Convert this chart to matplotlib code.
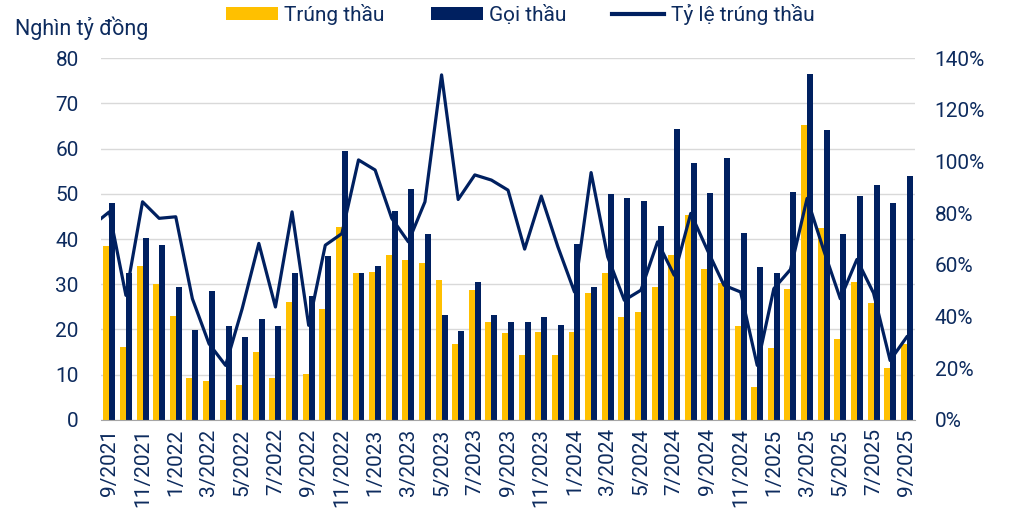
import matplotlib
matplotlib.use("Agg")
import matplotlib.pyplot as plt
import numpy as np

plt.rcParams['font.family'] = ['Roboto', 'DejaVu Sans']

# Tháng: 9/2021 .. 9/2025
months = []
m, y = 9, 2021
while (y, m) <= (2025, 9):
    months.append(f"{m}/{y}")
    m += 1
    if m > 12:
        m, y = 1, y + 1

trung_thau = [38.4, 16.1, 34.0, 30.0, 23.0, 9.2, 8.7, 4.5, 7.8, 15.1,
              9.2, 26.0, 10.1, 24.5, 42.7, 32.5, 32.7, 36.5, 35.4, 34.7,
              30.9, 16.8, 28.8, 21.6, 19.2, 14.4, 19.4, 14.4, 19.4, 28.1,
              32.5, 22.7, 23.9, 29.4, 36.4, 45.3, 33.3, 30.3, 20.7, 7.2,
              15.9, 29.0, 65.2, 42.5, 17.9, 30.4, 25.8, 11.4, 16.8]
goi_thau = [47.9, 32.5, 40.3, 38.6, 29.3, 19.8, 28.4, 20.8, 18.4, 22.4,
            20.8, 32.4, 27.3, 36.3, 59.5, 32.5, 34.0, 46.1, 51.0, 41.2,
            23.1, 19.6, 30.4, 23.3, 21.6, 21.6, 22.7, 20.9, 38.8, 29.3,
            49.9, 49.0, 48.4, 42.9, 64.3, 56.7, 50.1, 57.9, 41.4, 33.9,
            32.4, 50.4, 76.4, 64.0, 41.0, 49.5, 51.9, 47.9, 53.9]
# tỷ lệ (%), bắt đầu từ 8/2021 (điểm đầu nằm ngoài khung)
ty_le = [75.3, 80.5, 48.2, 84.4, 78.0, 78.6, 46.9, 29.5, 21.1, 43.1, 68.3,
         43.7, 80.5, 36.6, 67.6, 72.1, 100.6, 96.7, 78.0, 68.9, 84.4,
         133.5, 85.3, 94.8, 92.8, 88.9, 66.1, 86.6, 67.0, 49.5, 95.7,
         63.1, 46.3, 50.2, 68.9, 56.0, 79.9, 65.7, 52.1, 49.5, 21.1,
         50.8, 58.2, 85.7, 65.7, 46.9, 62.1, 49.1, 23.0, 32.1]

yellow = '#FFC000'
navy = '#002060'
txt = '#0d2b5e'

x = np.arange(len(months))
fig = plt.figure(figsize=(10.10, 5.14), dpi=100)
ax = fig.add_axes([0.1, 0.183, 0.806, 0.704])
ax2 = ax.twinx()

w = 0.36
ax.bar(x - w / 2, trung_thau, w, color=yellow, label='Trúng thầu', zorder=2)
ax.bar(x + w / 2, goi_thau, w, color=navy, label='Gọi thầu', zorder=2)
ax2.plot(np.arange(-1, len(months)), ty_le, color=navy, lw=2.3,
         label='Tỷ lệ trúng thầu')

ax.set_xlim(-0.5, len(months) - 0.5)
ax.set_ylim(0, 80)
ax.set_yticks(range(0, 81, 10))
ax2.set_ylim(0, 140)
ax2.set_yticks(range(0, 141, 20))
ax2.set_yticklabels([f"{v}%" for v in range(0, 141, 20)])

ax.set_xticks(x[::2])
ax.set_xticklabels(months[::2], rotation=90)
ax.grid(axis='y', color='#d9d9d9', lw=1, zorder=0)
ax.set_axisbelow(True)

for a in (ax, ax2):
    for s in a.spines.values():
        s.set_visible(False)
    a.tick_params(length=0, labelsize=15, labelcolor=txt)
ax.spines['bottom'].set_visible(True)
ax.spines['bottom'].set_color('#a6a6a6')
ax.tick_params(axis='y', pad=16)
ax.tick_params(axis='x', pad=6)
ax2.tick_params(axis='y', pad=14)

fig.text(0.015, 0.946, 'Nghìn tỷ đồng', fontsize=15.5, color=txt, va='center')

h1, l1 = ax.get_legend_handles_labels()
h2, l2 = ax2.get_legend_handles_labels()
leg = fig.legend(h1 + h2, l1 + l2, loc='center', bbox_to_anchor=(0.515, 0.972),
                 ncol=3, frameon=False, fontsize=15, labelcolor=txt,
                 handlelength=2.5, handletextpad=0.3, columnspacing=2.2,
                 handleheight=0.55, borderpad=0)
leg.get_lines()[0].set_linewidth(3)

fig.savefig('out.png', dpi=100)
